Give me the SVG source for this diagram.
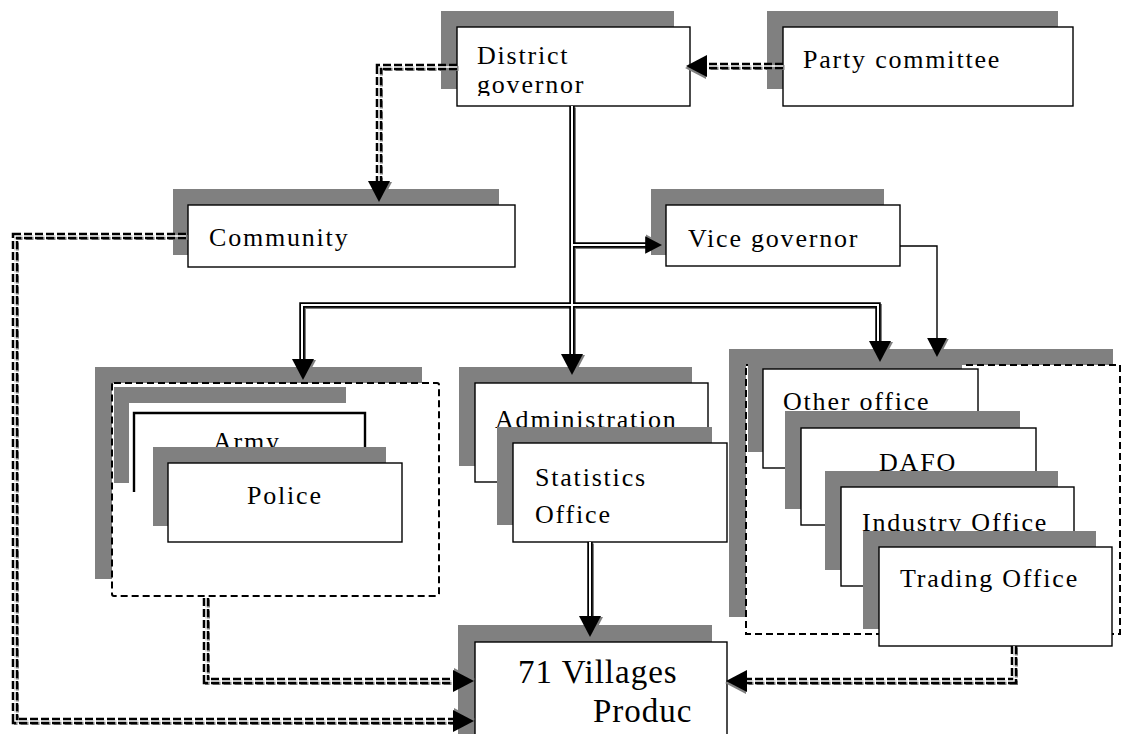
<svg xmlns="http://www.w3.org/2000/svg" xmlns:xlink="http://www.w3.org/1999/xlink" width="1124" height="734" viewBox="0 0 1124 734">
  <style>
    .sh { fill: #808080; }
    .bx { fill: #fff; stroke: #000; stroke-width: 1.4; }
    .grp { fill: #fff; stroke: #000; stroke-width: 2; stroke-dasharray: 7 4; }
    .t { font-family: "Liberation Serif", "Times New Roman", serif; font-size: 26px; letter-spacing: 1.8px; fill: #000; }
    .big { font-size: 33px; letter-spacing: 1px; }
    .ln-s { fill: none; stroke: #808080; stroke-width: 5; }
    .ln-k { fill: none; stroke: #000; stroke-width: 5.5; }
    .ln-w { fill: none; stroke: #fff; stroke-width: 2; }
    .dash { stroke-dasharray: 8 3; }
    .dk { stroke-width: 6.5; }
    .dw { stroke-width: 1.5; }
    .thin { fill: none; stroke: #000; stroke-width: 1.4; }
  </style>
  <defs>
    <!-- arrowhead pointing down, tip at origin, with a grey drop shadow -->
    <g id="ah">
      <path d="M2,1 L-9,-20 L13,-20 Z" fill="#808080"/>
      <path d="M0,0 L-11,-21 L11,-21 Z" fill="#000"/>
    </g>
    <!-- connector routes -->
    <path id="c-main" d="M572,106 V355"/>
    <path id="c-bar" d="M302,360 V305 H878 V342"/>
    <path id="c-vice" d="M572,245 H648"/>
    <path id="c-stat" d="M590,542 V617"/>
    <path id="d-comm" d="M457,67 H379 V182"/>
    <path id="d-party" d="M783,66 H707"/>
    <path id="d-left" d="M186,236 H15 V721 H453"/>
    <path id="d-army" d="M206,598 V681 H453"/>
    <path id="d-trade" d="M1014,646 V681 H747"/>
    <clipPath id="clip-dg"><rect x="457" y="27" width="233" height="69"/></clipPath>
  </defs>

  <!-- top row -->
  <g id="party-committee">
    <rect class="sh" x="767" y="11" width="291" height="78"/>
    <rect class="bx" x="783" y="27" width="290" height="79"/>
    <text class="t" x="803" y="68">Party committee</text>
  </g>
  <g id="district-governor">
    <rect class="sh" x="441" y="11" width="233" height="78"/>
    <rect class="bx" x="457" y="27" width="233" height="79"/>
    <g clip-path="url(#clip-dg)">
      <text class="t" x="477" y="64">District</text>
      <text class="t" x="477" y="93">governor</text>
    </g>
  </g>

  <!-- second row -->
  <g id="community">
    <rect class="sh" x="173" y="189" width="326" height="66"/>
    <rect class="bx" x="188" y="205" width="327" height="62"/>
    <text class="t" x="209" y="246">Community</text>
  </g>
  <g id="vice-governor">
    <rect class="sh" x="651" y="189" width="233" height="66"/>
    <rect class="bx" x="666" y="205" width="234" height="61"/>
    <text class="t" x="688" y="247">Vice governor</text>
  </g>

  <!-- army / police cluster -->
  <g id="army-police">
    <rect class="sh" x="95" y="367" width="327" height="212"/>
    <rect class="grp" x="112" y="383" width="327" height="213" rx="2"/>
    <rect class="sh" x="114" y="387" width="232" height="96"/>
    <g id="army">
      <rect x="129" y="403" width="236" height="89" fill="#fff"/>
      <path d="M134,492 V413 H365 V447" fill="none" stroke="#000" stroke-width="2.4"/>
      <text class="t" x="213" y="450">Army</text>
    </g>
    <g id="police">
      <rect class="sh" x="153" y="447" width="233" height="79"/>
      <rect class="bx" x="168" y="463" width="234" height="79"/>
      <text class="t" x="247" y="504">Police</text>
    </g>
  </g>

  <!-- administration / statistics -->
  <g id="administration">
    <rect class="sh" x="459" y="367" width="233" height="99"/>
    <rect class="bx" x="475" y="383" width="233" height="99"/>
    <text class="t" x="495" y="428">Administration</text>
  </g>
  <g id="statistics-office">
    <rect class="sh" x="497" y="427" width="215" height="98"/>
    <rect class="bx" x="513" y="443" width="214" height="99"/>
    <text class="t" x="535" y="486">Statistics</text>
    <text class="t" x="535" y="523">Office</text>
  </g>

  <!-- line offices cluster -->
  <g id="offices">
    <rect class="sh" x="729" y="349" width="384" height="268"/>
    <rect class="grp" x="746" y="365" width="374" height="269"/>
    <g id="other-office">
      <rect class="sh" x="748" y="353" width="214" height="99"/>
      <rect class="bx" x="763" y="369" width="215" height="99"/>
      <text class="t" x="783" y="410">Other office</text>
    </g>
    <g id="dafo">
      <rect class="sh" x="785" y="411" width="235" height="98"/>
      <rect class="bx" x="801" y="428" width="235" height="97"/>
      <text class="t" x="879" y="471">DAFO</text>
    </g>
    <g id="industry-office">
      <rect class="sh" x="825" y="471" width="233" height="99"/>
      <rect class="bx" x="841" y="487" width="233" height="99"/>
      <text class="t" x="862" y="531">Industry Office</text>
    </g>
    <g id="trading-office">
      <rect class="sh" x="863" y="531" width="233" height="98"/>
      <rect class="bx" x="879" y="547" width="233" height="99"/>
      <text class="t" x="900" y="587">Trading Office</text>
    </g>
  </g>

  <!-- bottom -->
  <g id="villages">
    <rect class="sh" x="458" y="625" width="254" height="120"/>
    <rect class="bx" x="475" y="642" width="252" height="110"/>
    <text class="t big" x="518" y="683">71 Villages</text>
    <text class="t big" x="593" y="722">Produc</text>
  </g>

  <!-- connectors -->
  <g id="connectors">
    <!-- solid double lines -->
    <g transform="translate(1.5,1.5)">
      <use xlink:href="#c-main" class="ln-s"/>
      <use xlink:href="#c-bar" class="ln-s"/>
      <use xlink:href="#c-vice" class="ln-s"/>
      <use xlink:href="#c-stat" class="ln-s"/>
    </g>
    <use xlink:href="#c-main" class="ln-k"/>
    <use xlink:href="#c-bar" class="ln-k"/>
    <use xlink:href="#c-vice" class="ln-k"/>
    <use xlink:href="#c-stat" class="ln-k"/>
    <use xlink:href="#c-main" class="ln-w"/>
    <use xlink:href="#c-bar" class="ln-w"/>
    <use xlink:href="#c-vice" class="ln-w"/>
    <use xlink:href="#c-stat" class="ln-w"/>

    <!-- dashed double lines -->
    <g transform="translate(1.5,1.5)">
      <use xlink:href="#d-comm" class="ln-s dash"/>
      <use xlink:href="#d-party" class="ln-s dash"/>
      <use xlink:href="#d-left" class="ln-s dash"/>
      <use xlink:href="#d-army" class="ln-s dash"/>
      <use xlink:href="#d-trade" class="ln-s dash"/>
    </g>
    <use xlink:href="#d-comm" class="ln-k dk dash"/>
    <use xlink:href="#d-party" class="ln-k dk dash"/>
    <use xlink:href="#d-left" class="ln-k dk dash"/>
    <use xlink:href="#d-army" class="ln-k dk dash"/>
    <use xlink:href="#d-trade" class="ln-k dk dash"/>
    <use xlink:href="#d-comm" class="ln-w dw"/>
    <use xlink:href="#d-party" class="ln-w dw"/>
    <use xlink:href="#d-left" class="ln-w dw"/>
    <use xlink:href="#d-army" class="ln-w dw"/>
    <use xlink:href="#d-trade" class="ln-w dw"/>

    <!-- single line: vice governor to offices -->
    <path class="thin" d="M900,246 H937 V340"/>

    <!-- arrowheads -->
    <use xlink:href="#ah" transform="translate(572,375)"/>
    <use xlink:href="#ah" transform="translate(303,380)"/>
    <use xlink:href="#ah" transform="translate(880,362)"/>
    <use xlink:href="#ah" transform="translate(937,357) scale(0.9)"/>
    <use xlink:href="#ah" transform="translate(590,637)"/>
    <use xlink:href="#ah" transform="translate(662,245) rotate(-90) scale(0.8)"/>
    <use xlink:href="#ah" transform="translate(379,202)"/>
    <use xlink:href="#ah" transform="translate(686,66) rotate(90)"/>
    <use xlink:href="#ah" transform="translate(474,721) rotate(-90)"/>
    <use xlink:href="#ah" transform="translate(474,681) rotate(-90)"/>
    <use xlink:href="#ah" transform="translate(726,681) rotate(90)"/>
  </g>
</svg>
